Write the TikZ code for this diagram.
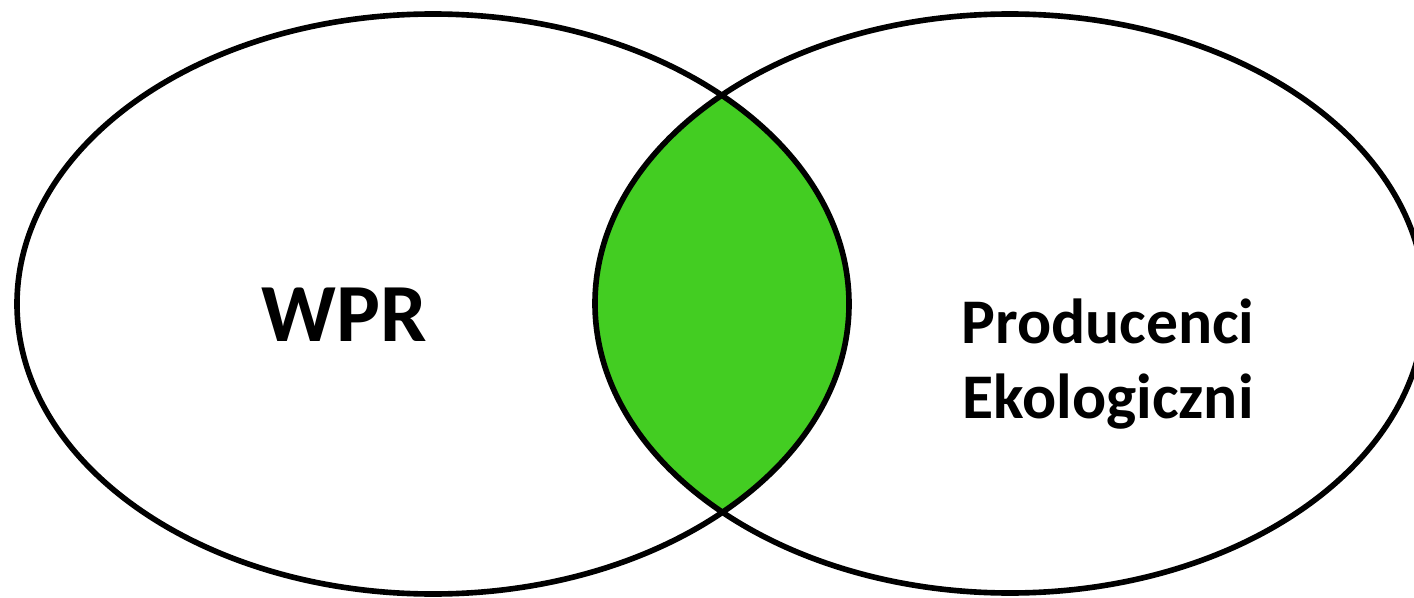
\documentclass[tikz,border=0pt]{standalone}
\usepackage{fontspec}
\setmainfont{Carlito}
\usepackage{tikz}
\usetikzlibrary{positioning}
\definecolor{lensgreen}{RGB}{67,205,34}

\begin{document}
\begin{tikzpicture}[line width=1.6pt]
\tikzstyle{setname}=[font=\bfseries,align=center,inner sep=0pt]
\useasboundingbox (0,0) rectangle (14.14,5.97);
\coordinate (wpr) at (4.33,2.93);
\coordinate (eko) at (10.10,2.935);
\begin{scope}
\clip (wpr) ellipse [x radius=4.16cm,y radius=2.90cm];
\fill[lensgreen] (eko) ellipse [x radius=4.15cm,y radius=2.895cm];
\end{scope}
\draw (wpr) ellipse [x radius=4.16cm,y radius=2.90cm];
\draw (eko) ellipse [x radius=4.15cm,y radius=2.895cm];
\node[setname,font=\fontsize{23.5}{28}\selectfont\bfseries] (a) at (3.44,2.82) {WPR};
\node[setname,font=\fontsize{18.1}{21.5}\selectfont\bfseries] (b) at (11.08,2.33) {Producenci\\Ekologiczni};
\end{tikzpicture}
\end{document}
